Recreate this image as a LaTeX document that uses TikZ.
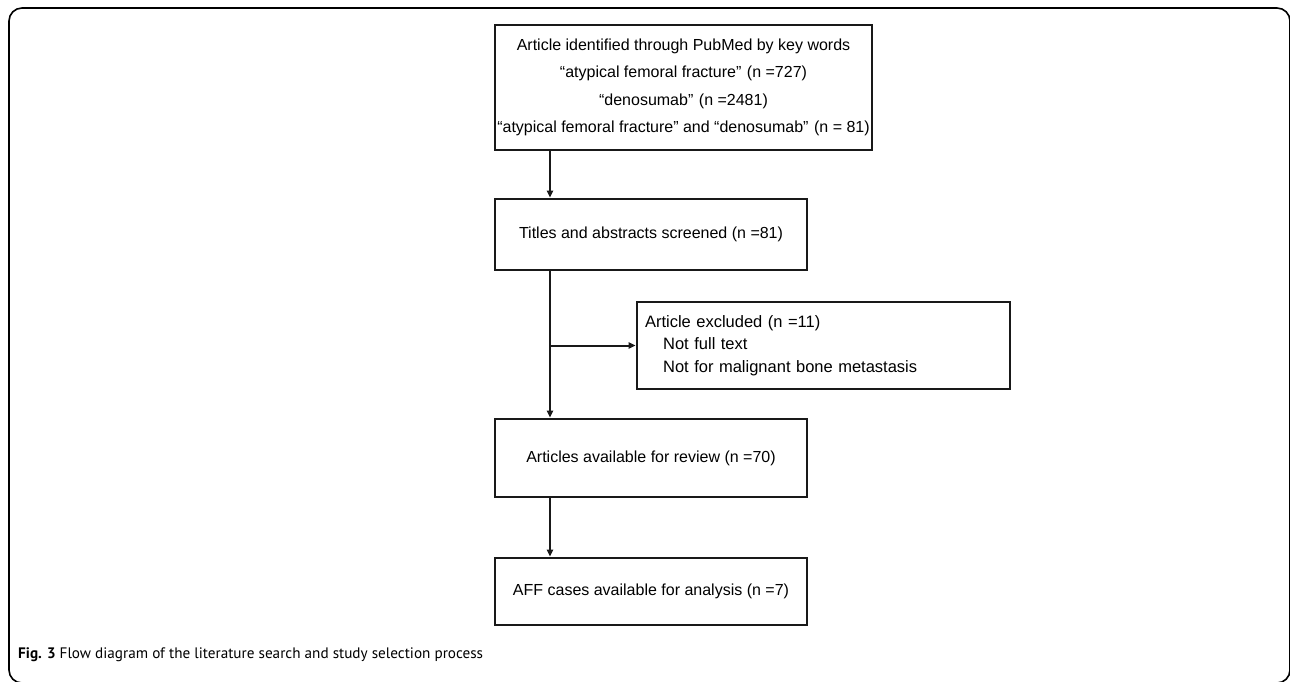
\documentclass[tikz,border=0pt]{standalone}
\usepackage{fontspec}
\setmainfont{Liberation Sans}
\newfontfamily\capfont{PT Sans}
\usetikzlibrary{calc,positioning,arrows.meta}
\newcommand{\qgap}{\hspace{0.35em}}

\begin{document}
\begin{tikzpicture}[
    x=1pt,y=-1pt,
    stagebox/.style={draw=black!90,line width=2.6pt,inner sep=0pt,
      minimum width=312pt,font=\fontsize{16}{27.5}\selectfont,align=center},
    flow/.style={line width=2pt,black!90,-{Triangle[length=7pt,width=6pt]}}
  ]
  \useasboundingbox (0,0) rectangle (1290,681);
  % frame
  \draw [line width=1.6pt,rounded corners=13pt]
    (9,8) rectangle (1290,683)
  ;
  % search
  \node [stagebox,minimum width=377pt,minimum height=125pt]
    at (683.5,87.5) (search)
    {Article identified through PubMed by key words\\
     “atypical femoral fracture”\qgap(n =727)\\
     “denosumab”\qgap(n =2481)\\
     “atypical femoral fracture” and “denosumab”\qgap(n = 81)}
  ;
  % screening
  \node [stagebox,minimum height=71pt]
    at (651,234.5) (screened)
    {Titles and abstracts screened (n =81)}
  ;
  % exclusion
  \node [stagebox,minimum width=373pt,minimum height=87pt,
      text width=357pt,inner xsep=8pt,align=left,
      font=\fontsize{16.5}{22.5}\selectfont]
    at (823.5,345.5) (excluded)
    {Article excluded (n =11)\\
     \hspace*{1.1em}Not full text\\
     \hspace*{1.1em}Not for malignant bone metastasis}
  ;
  % review
  \node [stagebox,minimum height=78pt]
    at (651,458) (review)
    {Articles available for review (n =70)}
  ;
  % analysis
  \node [stagebox,minimum height=67pt]
    at (651,591.5) (analysis)
    {AFF cases available for analysis (n =7)}
  ;
  % trunk
  \coordinate (trunk) at (550,0);
  \draw [flow] (search.south -| trunk) -- (screened.north -| trunk);
  \draw [flow] (screened.south -| trunk) -- (review.north -| trunk);
  \draw [flow] (excluded.west -| trunk) -- (excluded.west);
  \draw [flow] (review.south -| trunk) -- (analysis.north -| trunk);
  % caption
  \node [anchor=base west,inner sep=0pt,font=\capfont\fontsize{15.2}{19}\selectfont]
    at (18,658) (caption)
    {\textbf{Fig. 3} Flow diagram of the literature search and study selection process}
  ;
\end{tikzpicture}
\end{document}
